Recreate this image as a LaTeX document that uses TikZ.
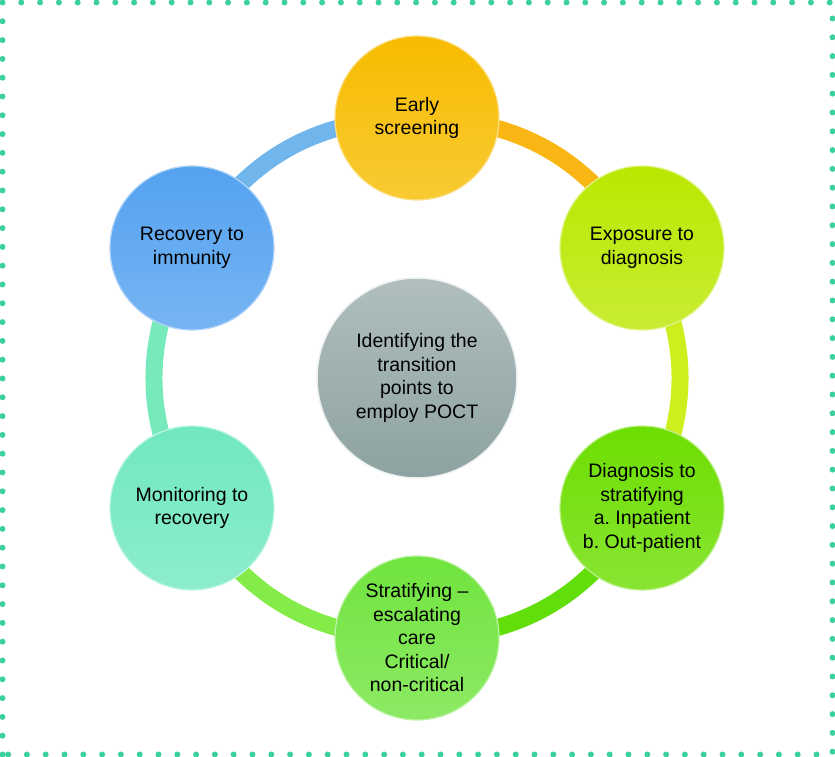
\documentclass[tikz,border=0pt]{standalone}
\usepackage{fontspec}
\setmainfont{Liberation Sans}
\usetikzlibrary{backgrounds}
\frenchspacing

\definecolor{dotgreen}{RGB}{60,208,160}
\definecolor{earlyyel}{RGB}{247,188,0}
\definecolor{expogreen}{RGB}{186,232,0}
\definecolor{diaggreen}{RGB}{108,222,0}
\definecolor{stratgreen}{RGB}{112,228,62}
\definecolor{monitmint}{RGB}{112,232,192}
\definecolor{recovblue}{RGB}{84,162,240}
\definecolor{hubgray}{RGB}{142,162,162}
\definecolor{ringblue}{RGB}{112,182,236}
\definecolor{ringorange}{RGB}{250,182,20}
\definecolor{ringyel}{RGB}{206,238,30}
\definecolor{ringgreen}{RGB}{98,222,10}
\definecolor{ringlight}{RGB}{132,236,72}
\definecolor{ringmint}{RGB}{118,234,186}

\begin{document}
\begin{tikzpicture}[
    x=1pt, y=1pt,
    bubble/.style={circle, minimum size=164pt, inner sep=0pt, align=center, shading=axis, top color=#1, bottom color=#1!80!white, draw=#1!45!white, line width=1.2pt, font=\fontsize{19.5}{23.5}\selectfont},
    hubbox/.style={circle, minimum size=200pt, inner sep=0pt, align=center, shading=axis, top color=hubgray!70!white, bottom color=hubgray, draw=white!85!hubgray, line width=1.5pt, font=\fontsize{19.5}{23.5}\selectfont},
    ring/.style={line width=17pt, draw=#1},
    frame/.style={dotgreen, line width=6pt, line cap=round, dash pattern=on 0pt off 18.8pt}
]
    \useasboundingbox (0,0) rectangle (835,757);

    % Cadre
    \draw[frame] (2.5,2.5) rectangle (832.5,754.5);

    % Centre
    \node[hubbox] (hub) at (417,379) {Identifying the\\transition\\points to\\employ POCT};

    % Etapes
    \node[bubble=earlyyel] (early) at (417,639) {Early\\screening};
    \node[bubble=expogreen] (expo) at (642,509) {Exposure to\\diagnosis};
    \node[bubble=diaggreen] (diag) at (642,249) {Diagnosis to\\stratifying\\a. Inpatient\\b. Out-patient};
    \node[bubble=stratgreen] (strat) at (417,119) {Stratifying --\\escalating\\care\\Critical/\\non-critical};
    \node[bubble=monitmint] (monit) at (192,249) {Monitoring to\\recovery};
    \node[bubble=recovblue] (recov) at (192,509) {Recovery to\\immunity};

    % Anneau
    \begin{scope}[on background layer]
        \draw[ring=ringblue] (recov.center) to[bend left=30] (early.center);
        \draw[ring=ringorange] (early.center) to[bend left=30] (expo.center);
        \draw[ring=ringyel] (expo.center) to[bend left=30] (diag.center);
        \draw[ring=ringgreen] (diag.center) to[bend left=30] (strat.center);
        \draw[ring=ringlight] (strat.center) to[bend left=30] (monit.center);
        \draw[ring=ringmint] (monit.center) to[bend left=30] (recov.center);
    \end{scope}
\end{tikzpicture}
\end{document}
